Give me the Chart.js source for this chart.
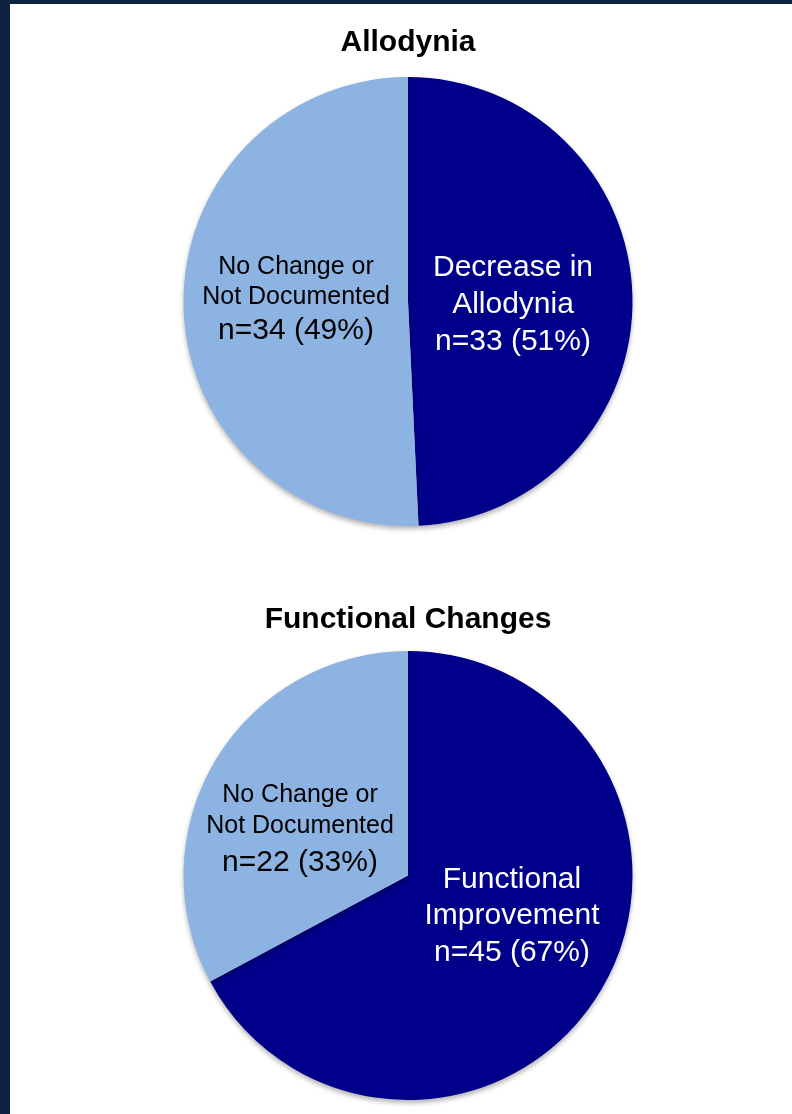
<!DOCTYPE html>
<html>
<head>
<meta charset="utf-8">
<script src="https://cdn.jsdelivr.net/npm/chart.js@4.4.0/dist/chart.umd.min.js"></script>
<style>
  html, body { margin: 0; padding: 0; background: #0e2340; }
  #page { position: absolute; left: 10px; top: 4px; width: 782px; height: 1110px; background: #fff; }
  canvas { position: absolute; left: 0; }
  #chart-one { top: 0; }
  #chart-two { top: 576px; }
</style>
</head>
<body>
<div id="page">
  <canvas id="chart-one" width="782" height="576"></canvas>
  <canvas id="chart-two" width="782" height="534"></canvas>
</div>
<script>
'use strict';

// ************* Data **************
let allodyniaTitle = 'Allodynia';
let allodyniaLabels = ['Decrease in Allodynia', 'No Change or Not Documented'];
let allodyniaCounts = [33, 34];
let allodyniaText = [
  ['Decrease in', 'Allodynia', 'n=33 (51%)'],
  ['No Change or', 'Not Documented', 'n=34 (49%)']
];

let functionTitle = 'Functional Changes';
let functionLabels = ['Functional Improvement', 'No Change or Not Documented'];
let functionCounts = [45, 22];
let functionText = [
  ['Functional', 'Improvement', 'n=45 (67%)'],
  ['No Change or', 'Not Documented', 'n=22 (33%)']
];

let sliceColors = ['#00008b', '#8db3e2'];
let textColors = ['#ffffff', '#000000'];

// ************ Label plugin ****************
// lines are drawn relative to the pie centre, one block per slice
let sliceLabels = {
  id: 'sliceLabels',
  beforeDatasetsDraw(chart) {
    let ctx = chart.ctx;
    ctx.save();
    ctx.shadowColor = 'rgba(0,0,0,0.3)';
    ctx.shadowBlur = 5;
    ctx.shadowOffsetY = 3;
  },
  afterDatasetsDraw(chart, args, opts) {
    let ctx = chart.ctx;
    ctx.restore();
    let arc = chart.getDatasetMeta(0).data[0];
    let cx = arc.x;
    let cy = arc.y;
    ctx.save();
    ctx.textAlign = 'center';
    ctx.textBaseline = 'middle';
    opts.text.forEach((lines, i) => {
      let spot = opts.spots[i];
      ctx.fillStyle = textColors[i];
      lines.forEach((line, j) => {
        ctx.font = spot.sizes[j] + 'px "Liberation Sans", Arial, sans-serif';
        ctx.fillText(line, cx + spot.dx, cy + spot.dy[j]);
      });
    });
    ctx.restore();
  }
};

function makePie(canvasId, title, labels, values, text, spots, pad) {
  let canvasElem = document.getElementById(canvasId);
  return new Chart(canvasElem, {
    type: 'pie',
    data: {
      labels: labels,
      datasets: [{
        data: values,
        backgroundColor: sliceColors,
        borderWidth: 0
      }]
    },
    options: {
      responsive: false,
      animation: false,
      layout: { padding: pad.layout },
      plugins: {
        legend: { display: false },
        tooltip: { enabled: false },
        title: {
          display: true,
          text: title,
          color: '#000',
          font: { family: '"Liberation Sans", Arial, sans-serif', size: 30, weight: 'bold' },
          padding: pad.title
        },
        sliceLabels: { text: text, spots: spots }
      }
    },
    plugins: [sliceLabels]
  });
}

makePie('chart-one', allodyniaTitle, allodyniaLabels, allodyniaCounts, allodyniaText,
  [
    { dx: 105, dy: [-34, 3, 40], sizes: [30, 30, 30] },
    { dx: -112, dy: [-34, -4, 29], sizes: [25, 25, 30] }
  ],
  { layout: { top: 0, bottom: 54, left: 14, right: 0 }, title: { top: 21, bottom: 16 } }
);

makePie('chart-two', functionTitle, functionLabels, functionCounts, functionText,
  [
    { dx: 104, dy: [4, 40, 77], sizes: [30, 30, 30] },
    { dx: -108, dy: [-80, -49, -13], sizes: [25, 25, 30] }
  ],
  { layout: { top: 0, bottom: 14, left: 14, right: 0 }, title: { top: 22, bottom: 13 } }
);
</script>
</body>
</html>
